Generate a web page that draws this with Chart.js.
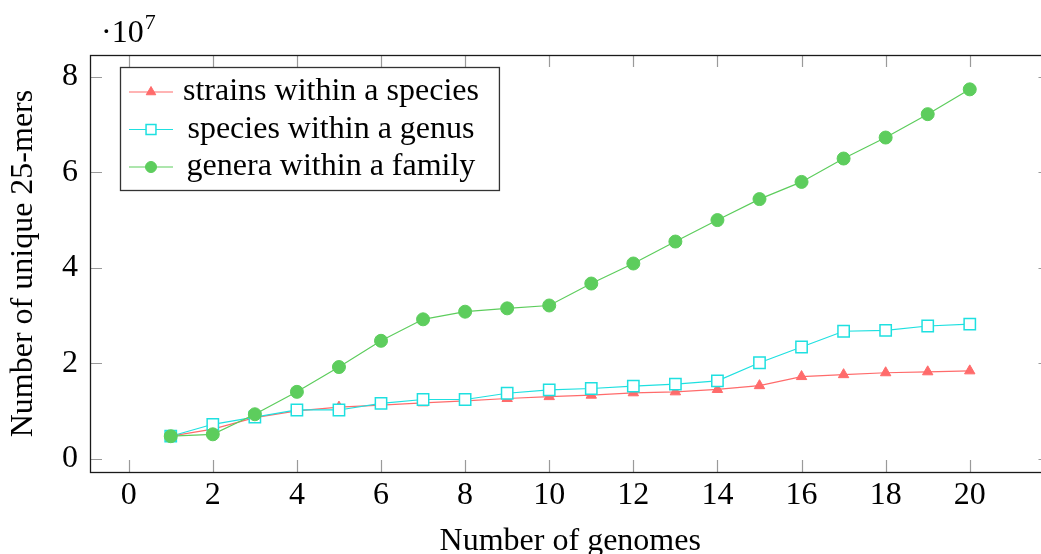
<!DOCTYPE html>
<html>
<head>
<meta charset="utf-8">
<script src="https://cdn.jsdelivr.net/npm/chart.js@4.4.1/dist/chart.umd.min.js"></script>
<style>
  html, body { margin: 0; padding: 0; background: #fff; overflow: hidden; }
  #wrap { width: 1041px; height: 554px; overflow: hidden; position: relative; }
  #kmerChart { position: absolute; left: 0; top: 0; }
</style>
</head>
<body>
<div id="wrap">
  <canvas id="kmerChart" width="1060" height="554"></canvas>
</div>
<script>
// number of genomes added
const genomes = [1, 2, 3, 4, 5, 6, 7, 8, 9, 10, 11, 12, 13, 14, 15, 16, 17, 18, 19, 20];

// unique 25-mers, raw counts
const strains = [4.7e6, 6.2e6, 8.6e6, 1.00e7, 1.08e7, 1.12e7, 1.17e7, 1.21e7, 1.26e7, 1.30e7,
                 1.33e7, 1.38e7, 1.40e7, 1.45e7, 1.53e7, 1.72e7, 1.76e7, 1.80e7, 1.82e7, 1.84e7];
const species = [4.7e6, 7.2e6, 8.7e6, 1.02e7, 1.02e7, 1.16e7, 1.24e7, 1.24e7, 1.37e7, 1.44e7,
                 1.47e7, 1.52e7, 1.56e7, 1.63e7, 2.01e7, 2.34e7, 2.67e7, 2.69e7, 2.78e7, 2.82e7];
const genera  = [4.7e6, 5.1e6, 9.3e6, 1.40e7, 1.92e7, 2.47e7, 2.92e7, 3.08e7, 3.15e7, 3.21e7,
                 3.67e7, 4.09e7, 4.55e7, 5.00e7, 5.44e7, 5.80e7, 6.29e7, 6.73e7, 7.22e7, 7.74e7];

const seriesNames = ["strains within a species", "species within a genus", "genera within a family"];
const xTickValues = [0, 2, 4, 6, 8, 10, 12, 14, 16, 18, 20];
const yTickValues = [0, 2e7, 4e7, 6e7, 8e7];

const FONT = "'Liberation Serif', 'Times New Roman', serif";
const RED = "#ff6b6b";
const CYAN = "#1ee0e0";
const GREEN = "#5dcd5d";

function toPoints(ys) {
  return genomes.map((g, i) => ({ x: g, y: ys[i] }));
}

function drawMarker(ctx, style, r, x, y, fill, stroke, bw) {
  ctx.save();
  ctx.fillStyle = fill;
  ctx.strokeStyle = stroke;
  ctx.lineWidth = bw;
  Chart.helpers.drawPoint(ctx, { pointStyle: style, radius: r, borderWidth: bw, rotation: 0 }, x, y);
  ctx.restore();
}

// frame, inner tick marks on all four sides, the ·10^7 multiplier, and the boxed legend
const pgfStyle = {
  id: "pgfStyle",
  afterDatasetsDraw(chart) {
    const ctx = chart.ctx;
    const ca = chart.chartArea;
    const xs = chart.scales.x;
    const ys = chart.scales.y;
    const tl = 12;

    ctx.save();
    // tick marks
    ctx.strokeStyle = "#9a9a9a";
    ctx.lineWidth = 1.2;
    ctx.beginPath();
    xTickValues.forEach((v) => {
      const px = Math.round(xs.getPixelForValue(v)) + 0.5;
      ctx.moveTo(px, ca.bottom); ctx.lineTo(px, ca.bottom - tl);
      ctx.moveTo(px, ca.top); ctx.lineTo(px, ca.top + tl);
    });
    yTickValues.forEach((v) => {
      const py = Math.round(ys.getPixelForValue(v)) + 0.5;
      ctx.moveTo(ca.left, py); ctx.lineTo(ca.left + tl, py);
      ctx.moveTo(ca.right, py); ctx.lineTo(ca.right - tl, py);
    });
    ctx.stroke();

    // axis frame
    ctx.strokeStyle = "#1a1a1a";
    ctx.lineWidth = 1.3;
    ctx.strokeRect(Math.round(ca.left) + 0.5, Math.round(ca.top) + 0.5,
                   Math.round(ca.right - ca.left), Math.round(ca.bottom - ca.top));

    // exponent label
    ctx.fillStyle = "#000";
    ctx.textBaseline = "alphabetic";
    ctx.textAlign = "left";
    ctx.font = "32px " + FONT;
    ctx.fillText("·10", 101, 42);
    const w10 = ctx.measureText("·10").width;
    ctx.font = "22px " + FONT;
    ctx.fillText("7", 101 + w10 + 1, 29);

    // legend
    ctx.font = "32px " + FONT;
    const sets = chart.data.datasets;
    const textW = Math.max(...seriesNames.map((s) => ctx.measureText(s).width));
    const bx = ca.left + 30;
    const by = ca.top + 12;
    const rowH = 37.5;
    const textLeft = bx + 63;
    const bw = 63 + textW + 20;
    const bh = 123;
    ctx.fillStyle = "#fff";
    ctx.fillRect(bx, by, bw, bh);
    ctx.strokeStyle = "#333";
    ctx.lineWidth = 1.3;
    ctx.strokeRect(bx + 0.5, by + 0.5, bw, bh);

    seriesNames.forEach((name, i) => {
      const ds = sets[i];
      const cy = by + 25 + i * rowH;
      ctx.strokeStyle = ds.borderColor;
      ctx.lineWidth = 1.2;
      ctx.beginPath();
      ctx.moveTo(bx + 9, cy);
      ctx.lineTo(bx + 53, cy);
      ctx.stroke();
      drawMarker(ctx, ds.pointStyle, ds.legendRadius, bx + 31, cy,
                 ds.pointBackgroundColor, ds.pointBorderColor, ds.pointBorderWidth);

      ctx.fillStyle = "#000";
      ctx.textAlign = "center";
      ctx.textBaseline = "middle";
      ctx.fillText(name, textLeft + textW / 2, cy);
    });
    ctx.restore();
  }
};

const ctx = document.getElementById("kmerChart").getContext("2d");

new Chart(ctx, {
  type: "line",
  data: {
    datasets: [
      {
        label: seriesNames[0],
        data: toPoints(strains),
        borderColor: RED,
        backgroundColor: RED,
        pointStyle: "triangle",
        pointRadius: 6,
        legendRadius: 5.5,
        pointBackgroundColor: RED,
        pointBorderColor: RED,
        pointBorderWidth: 1,
        borderWidth: 1.2,
        order: 3
      },
      {
        label: seriesNames[1],
        data: toPoints(species),
        borderColor: CYAN,
        backgroundColor: CYAN,
        pointStyle: "rect",
        pointRadius: 8,
        legendRadius: 7,
        pointBackgroundColor: "#fff",
        pointBorderColor: CYAN,
        pointBorderWidth: 1.5,
        borderWidth: 1.2,
        order: 2
      },
      {
        label: seriesNames[2],
        data: toPoints(genera),
        borderColor: GREEN,
        backgroundColor: GREEN,
        pointStyle: "circle",
        pointRadius: 6.5,
        legendRadius: 5.5,
        pointBackgroundColor: GREEN,
        pointBorderColor: GREEN,
        pointBorderWidth: 1,
        borderWidth: 1.2,
        order: 1
      }
    ]
  },
  options: {
    responsive: false,
    animation: false,
    devicePixelRatio: 1,
    layout: { padding: { top: 55, left: 0, right: 6, bottom: 0 } },
    plugins: {
      legend: { display: false },
      tooltip: { enabled: false }
    },
    elements: { line: { tension: 0 } },
    scales: {
      x: {
        type: "linear",
        min: -0.92,
        max: 21.92,
        grid: { display: false, drawTicks: false },
        border: { display: false },
        afterFit: (s) => { s.height = 82; },
        afterBuildTicks: (s) => { s.ticks = xTickValues.map((v) => ({ value: v })); },
        ticks: {
          color: "#000",
          font: { family: FONT, size: 32 },
          padding: 4,
          maxRotation: 0
        },
        title: {
          display: true,
          text: "Number of genomes",
          color: "#000",
          font: { family: FONT, size: 32 },
          padding: { top: 0, bottom: -7 }
        }
      },
      y: {
        type: "linear",
        min: -0.28e7,
        max: 8.46e7,
        grid: { display: false, drawTicks: false },
        border: { display: false },
        afterFit: (s) => { s.width = 90; },
        afterBuildTicks: (s) => { s.ticks = yTickValues.map((v) => ({ value: v })); },
        ticks: {
          color: "#000",
          font: { family: FONT, size: 32 },
          padding: 12,
          callback: (v) => String(v / 1e7)
        },
        title: {
          display: true,
          text: "Number of unique 25-mers",
          color: "#000",
          font: { family: FONT, size: 32 },
          padding: { top: 4, bottom: 0 }
        }
      }
    }
  },
  plugins: [pgfStyle]
});
</script>
</body>
</html>
